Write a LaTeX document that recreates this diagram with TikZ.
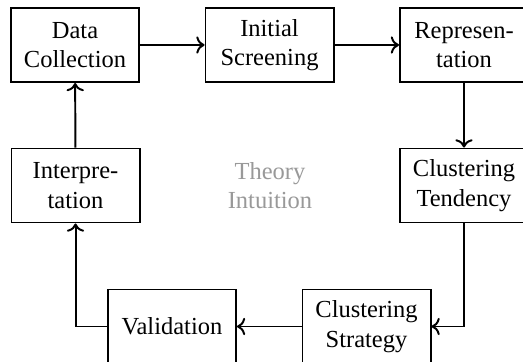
\documentclass[tikz,border=0pt]{standalone}
\usepackage{fontspec}
\setmainfont{Liberation Serif}
\usepackage{tikz}
\usetikzlibrary{arrows.meta, positioning}
\tikzset{
	stage/.style={draw, thick, minimum width=1.836cm, minimum height=1.061cm, align=center, inner sep=1pt},
	flow/.style={->, thick}
}

\begin{document}
\begin{tikzpicture}
	\useasboundingbox (0,0) rectangle (7.5,-5.19);
	
	% Stages of the process
	\node[stage] (collect) at (1.076, -0.645) {Data\\Collection};
	\node[stage] (screen) at (3.865, -0.645) {Initial\\Screening};
	\node[stage] (repr) at (6.654, -0.645) {Represen-\\tation};
	\node[stage] (tend) at (6.654, -2.660) {Clustering\\Tendency};
	\node[stage] (strat) at (5.256, -4.682) {Clustering\\Strategy};
	\node[stage] (valid) at (2.466, -4.682) {Validation};
	\node[stage] (interp) at (1.083, -2.660) {Interpre-\\tation};
	
	% Label in the middle
	\node[text=black!40, align=center] (theory) at (3.872, -2.660) {Theory\\Intuition};
	
	% Connect the stages
	\draw[flow] (collect) -- (screen);
	\draw[flow] (screen) -- (repr);
	\draw[flow] (repr) -- (tend);
	\draw[flow] (tend.south) |- (strat.east);
	\draw[flow] (strat) -- (valid);
	\draw[flow] (valid.west) -| (interp.south);
	\draw[flow] (interp) -- (collect);
\end{tikzpicture}
\end{document}
